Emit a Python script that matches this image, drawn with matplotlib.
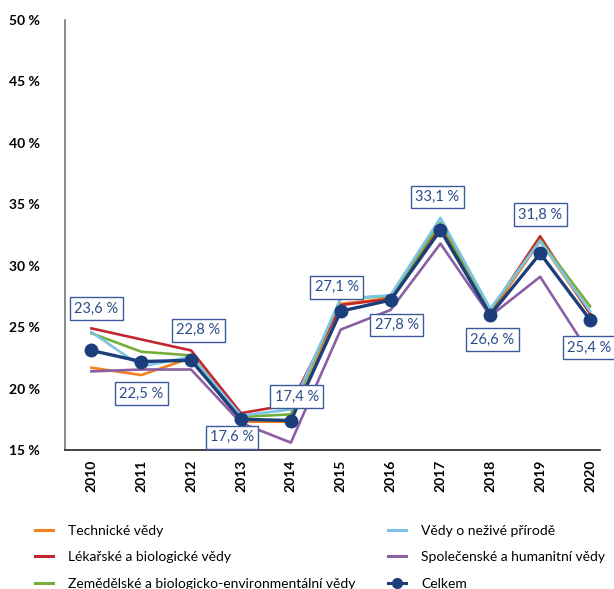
import numpy as np
import matplotlib.pyplot as plt
from matplotlib.lines import Line2D

plt.rcParams['font.family'] = ['Lato', 'DejaVu Sans']

# --- DATA ---
years = ["2010", "2011", "2012", "2013", "2014", "2015", "2016", "2017", "2018", "2019", "2020"]

technicke = [21.7, 21.1, 22.5, 17.3, 17.3, 26.9, 27.35, 33.2, 26.1, 32.0, 26.1]
lekarske = [24.9, 24.0, 23.1, 18.0, 18.7, 26.8, 27.3, 33.3, 26.3, 32.4, 26.1]
zemedelske = [24.5, 23.0, 22.7, 17.7, 17.9, 27.35, 27.5, 33.5, 26.4, 32.1, 26.7]
nezive = [24.6, 21.8, 22.6, 17.8, 18.3, 27.3, 27.6, 33.9, 26.5, 32.0, 26.3]
spolecenske = [21.4, 21.55, 21.55, 17.2, 15.6, 24.8, 26.4, 31.8, 25.9, 29.1, 22.8]
celkem = [23.1, 22.2, 22.3, 17.5, 17.4, 26.3, 27.2, 32.9, 26.0, 31.0, 25.6]

# labels as printed in the original chart
celkem_labels = ["23,6 %", "22,5 %", "22,8 %", "17,6 %", "17,4 %", "27,1 %",
                 "27,8 %", "33,1 %", "26,6 %", "31,8 %", "25,4 %"]

yticks = [15, 20, 25, 30, 35, 40, 45, 50]

# --- COLOURS ---
C_ORANGE = "#F5821F"
C_RED = "#C1272D"
C_GREEN = "#77AD3B"
C_LBLUE = "#7DC3E8"
C_PURPLE = "#8A5FA3"
C_NAVY = "#1C3F7C"

fig = plt.figure(figsize=(6.14, 5.89), dpi=100)
ax = fig.add_axes([65 / 614, 1 - 450 / 589, 535 / 614, 430 / 589])

x = np.arange(len(years))
lw = 1.9
series = [
    (technicke, C_ORANGE),
    (lekarske, C_RED),
    (zemedelske, C_GREEN),
    (spolecenske, C_PURPLE),
    (nezive, C_LBLUE),
]
for vals, col in series:
    ax.plot(x, vals, color=col, lw=lw, zorder=2)

ax.plot(x, celkem, color=C_NAVY, lw=2.4, marker="o", markersize=9, zorder=3)

# label box offsets in pixels (dx, dy up)
label_offsets = [(5, 42), (0, -32), (7, 30), (-9, -18), (6, 24), (-4, 24),
                 (6, -25), (-3, 33), (2, -25), (0, 39), (-1, -28)]
for i, (val, lab) in enumerate(zip(celkem, celkem_labels)):
    ax.annotate(lab, (x[i], val), xytext=label_offsets[i], textcoords="offset pixels",
                ha="center", va="center", fontsize=10.5, color="#2B4C8C",
                bbox=dict(boxstyle="square,pad=0.3", fc="white", ec="#3A5A9A", lw=1.0),
                zorder=5, annotation_clip=False)

ax.set_xlim(-0.53, 10.2)
ax.set_ylim(15, 50)
ax.set_xticks(x)
ax.set_xticklabels(years, rotation=90, fontsize=10, fontweight="bold")
ax.set_yticks(yticks)
ax.set_yticklabels([f"{t} %" for t in yticks], fontsize=10, fontweight="bold")
ax.tick_params(length=0)
ax.tick_params(axis="y", pad=18)
ax.tick_params(axis="x", pad=7)

for s in ["top", "right"]:
    ax.spines[s].set_visible(False)
ax.spines["left"].set_color("#777777")
ax.spines["bottom"].set_color("#222222")
ax.spines["left"].set_linewidth(1.2)
ax.spines["bottom"].set_linewidth(1.2)

# legend
handles = [
    Line2D([], [], color=C_ORANGE, lw=2.2),
    Line2D([], [], color=C_RED, lw=2.2),
    Line2D([], [], color=C_GREEN, lw=2.2),
    Line2D([], [], color=C_LBLUE, lw=2.2),
    Line2D([], [], color=C_PURPLE, lw=2.2),
    Line2D([], [], color=C_NAVY, lw=2.2, marker="o", markersize=7),
]
names = ["Technické vědy", "Lékařské a biologické vědy",
         "Zemědělské a biologicko-environmentální vědy",
         "Vědy o neživé přírodě", "Společenské a humanitní vědy", "Celkem"]
fig.legend(handles, names, ncol=2, loc="upper left", bbox_to_anchor=(29 / 614, 1 - 519 / 589),
           frameon=False, fontsize=10, handlelength=1.3, handletextpad=1.1,
           columnspacing=2.35, labelspacing=1.05, borderaxespad=0)

fig.savefig("out.png", dpi=100)
